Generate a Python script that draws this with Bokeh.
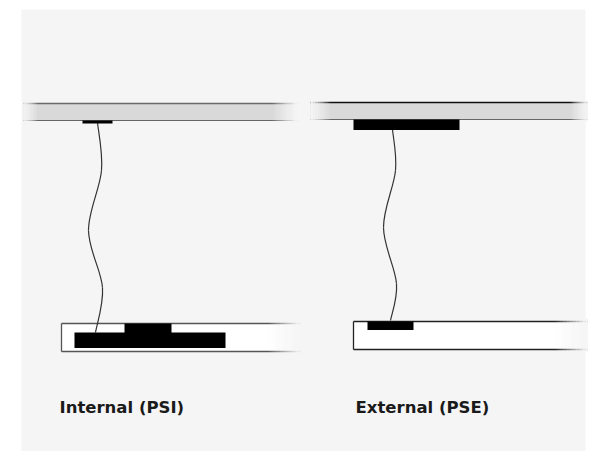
from bokeh.plotting import figure
from bokeh.models import Range1d
from bokeh.embed import file_html
from bokeh.resources import INLINE
from bokeh.core.properties import value

# Labels
labels = ["Internal (PSI)", "External (PSE)"]
label_x = [59, 355]
label_y = [407, 407]

# Cable knots (screen-like coords)
cable_left_x = [97, 101, 88, 102, 95]
cable_left_y = [122, 170, 230, 287, 332]
cable_right_x = [392, 395, 383, 396, 390]
cable_right_y = [129, 170, 227, 283, 320]

BG = "#f5f5f5"

p = figure(width=598, height=451, output_backend="svg", toolbar_location=None,
           x_range=Range1d(0, 598), y_range=Range1d(451, 0),
           x_axis_type=None, y_axis_type=None, min_border=0)
p.grid.visible = False
p.outline_line_color = None
p.background_fill_color = "white"
p.border_fill_color = "white"

# panel
p.quad(left=[21], right=[585], top=[9], bottom=[452], fill_color=BG, line_color=None)

def fade(x0, x1, y0, y1, rightward=True, n=14):
    w = (x1 - x0) / n
    lefts = [x0 + i * w for i in range(n)]
    rights = [x0 + (i + 1) * w + 0.3 for i in range(n)]
    if rightward:
        alphas = [(i + 1) / n for i in range(n)]
    else:
        alphas = [1 - i / n for i in range(n)]
    p.quad(left=lefts, right=rights, top=[y0] * n, bottom=[y1] * n,
           fill_color=BG, fill_alpha=alphas, line_color=None)

# ceilings
def ceiling(x0, x1, y0, y1, topcol):
    p.quad(left=[x0], right=[x1], top=[y0], bottom=[y1], fill_color="#d8d9d8", line_color=None)
    p.segment(x0=[x0], y0=[y0], x1=[x1], y1=[y0], line_color=topcol, line_width=1.5)
    p.segment(x0=[x0], y0=[y1], x1=[x1], y1=[y1], line_color="#666666", line_width=1)

ceiling(23, 297, 103, 120, "#6a6a6a")
fade(23, 37, 101, 122, rightward=False)
fade(272, 297, 101, 122, rightward=True)

ceiling(310, 587, 102, 119, "#111111")
fade(310, 330, 100, 121, rightward=False)
fade(570, 587, 100, 121, rightward=True)

# bottom boxes
p.quad(left=[61], right=[300], top=[323], bottom=[351], fill_color="white", line_color=None)
p.segment(x0=[61, 61, 61], y0=[323, 351, 323], x1=[300, 300, 61], y1=[323, 351, 351],
          line_color="#555555", line_width=1.3)
p.quad(left=[353], right=[587], top=[321], bottom=[349], fill_color="white", line_color=None)
p.segment(x0=[353, 353, 353], y0=[321, 349, 321], x1=[587, 587, 353], y1=[321, 349, 349],
          line_color="#222222", line_width=1.3)
fade(268, 300, 320, 353, rightward=True)
fade(555, 587, 318, 351, rightward=True)

# cables (Catmull-Rom -> cubic bezier)
def cable(xs, ys):
    n = len(xs)
    for i in range(n - 1):
        xm1 = xs[i - 1] if i > 0 else xs[i]
        ym1 = ys[i - 1] if i > 0 else ys[i]
        xp2 = xs[i + 2] if i + 2 < n else xs[i + 1]
        yp2 = ys[i + 2] if i + 2 < n else ys[i + 1]
        cx0 = xs[i] + (xs[i + 1] - xm1) / 6
        cy0 = ys[i] + (ys[i + 1] - ym1) / 6
        cx1 = xs[i + 1] - (xp2 - xs[i]) / 6
        cy1 = ys[i + 1] - (yp2 - ys[i]) / 6
        p.bezier(x0=[xs[i]], y0=[ys[i]], x1=[xs[i + 1]], y1=[ys[i + 1]],
                 cx0=[cx0], cy0=[cy0], cx1=[cx1], cy1=[cy1],
                 line_color="#333333", line_width=1.2)

cable(cable_left_x, cable_left_y)
cable(cable_right_x, cable_right_y)

# black plates
p.quad(left=[82, 353, 124, 74, 367], right=[112, 459, 171, 225, 413],
       top=[120, 119, 323, 332, 321], bottom=[123, 129.5, 332.5, 347.5, 329.5],
       fill_color="black", line_color=None)

# labels
p.text(x=label_x, y=label_y, text=labels, text_font=value("DejaVu Sans"),
       text_font_style="bold", text_font_size="16.5px", text_color="#1a1a1a",
       text_baseline="alphabetic")

open("out.html", "w").write(file_html(p, INLINE))
